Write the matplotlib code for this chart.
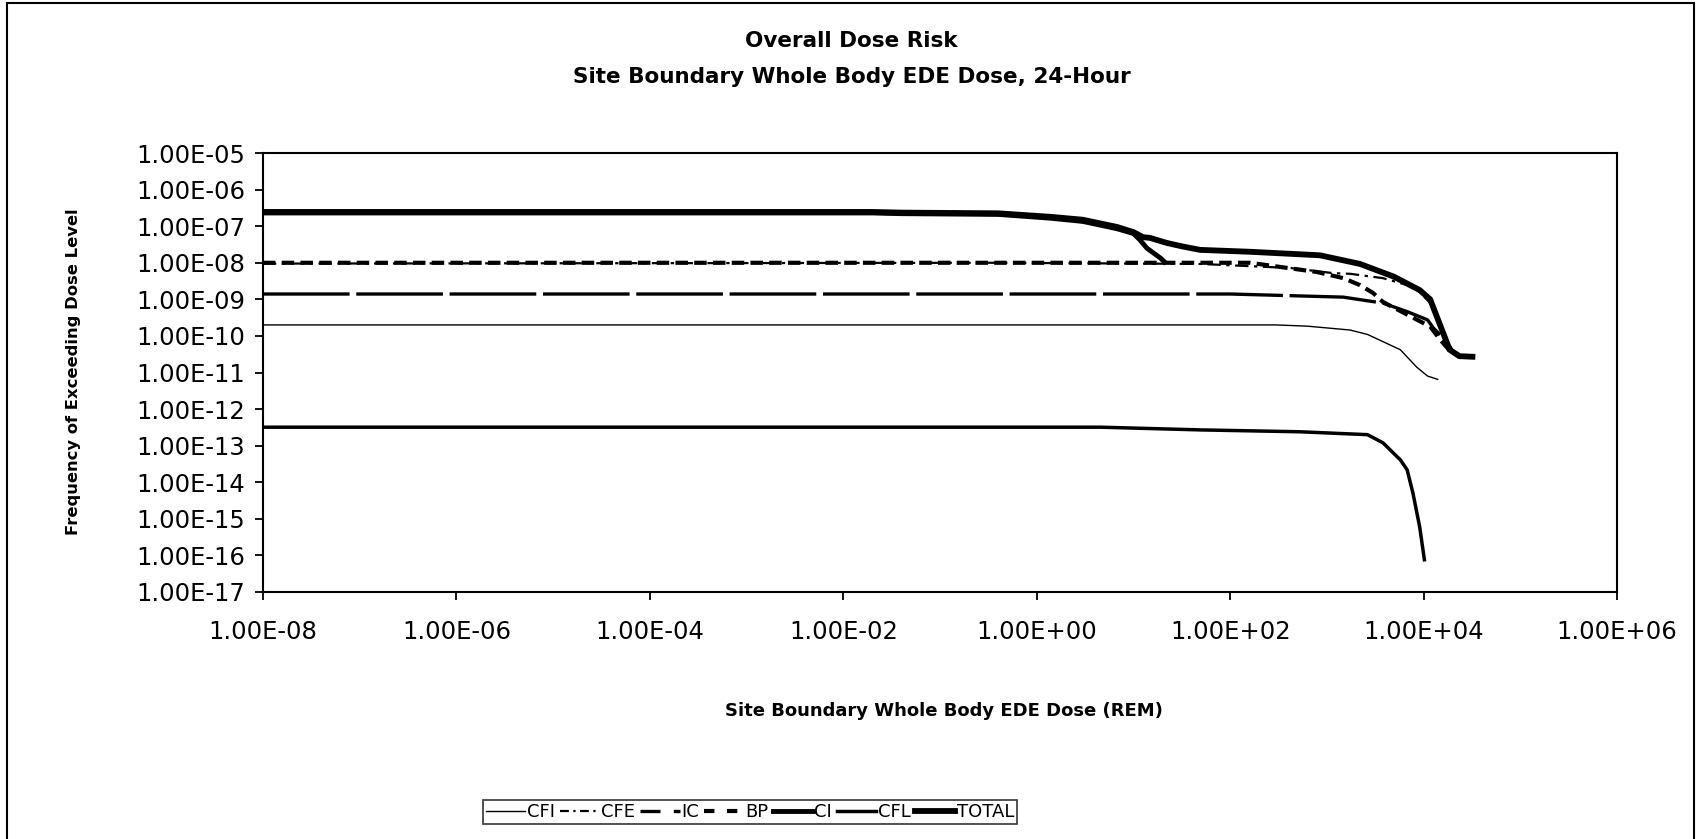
import matplotlib
matplotlib.use("Agg")
import matplotlib.pyplot as plt
from matplotlib.lines import Line2D
from matplotlib.patches import Rectangle
from matplotlib.ticker import FixedLocator, FuncFormatter, NullLocator

# dose (REM) / frequency of exceeding
total_x = [1e-8, 2e-2, 4e-2, 4e-1, 1.4, 3.0, 6.8, 10, 12.6, 14.8, 22, 32, 49, 160, 850, 2200, 4900, 9100, 11700, 18600, 23400, 32000]
total_y = [2.45e-7, 2.45e-7, 2.35e-7, 2.25e-7, 1.8e-7, 1.5e-7, 9.5e-8, 6.9e-8, 5.0e-8, 4.8e-8, 3.5e-8, 2.8e-8, 2.25e-8, 2.0e-8, 1.6e-8, 9.3e-9, 4.2e-9, 1.8e-9, 1.0e-9, 4.2e-11, 2.8e-11, 2.7e-11]

ci_x = [1e-8, 2e-2, 4e-2, 4e-1, 1.4, 3.0, 6.8, 10, 11.7, 13.8, 19, 21]
ci_y = [2.3e-7, 2.3e-7, 2.2e-7, 2.1e-7, 1.65e-7, 1.35e-7, 8.5e-8, 6.3e-8, 4.2e-8, 2.5e-8, 1.35e-8, 1.05e-8]

cfe_x = [1e-8, 0.4, 49, 420, 1170, 1740, 3800, 6800, 9100, 11700, 15800, 20000, 28000]
cfe_y = [9.5e-9, 1.0e-8, 9.3e-9, 7.2e-9, 5.2e-9, 5.0e-9, 3.8e-9, 2.45e-9, 1.6e-9, 7.9e-10, 1.26e-10, 4.0e-11, 2.5e-11]

bp_x = [1e-8, 160, 790, 1480, 2200, 3000, 3800, 11700, 14800, 20000]
bp_y = [1.0e-8, 1.0e-8, 5.6e-9, 3.8e-9, 2.45e-9, 1.5e-9, 8.5e-10, 1.8e-10, 8e-11, 3.2e-11]

ic_x = [1e-8, 100, 1480, 3800, 6800, 11000, 12600, 14800]
ic_y = [1.4e-9, 1.4e-9, 1.15e-9, 7.9e-10, 4.6e-10, 2.75e-10, 1.66e-10, 1.07e-10]

cfi_x = [1e-8, 300, 630, 1740, 2630, 5750, 8500, 11000, 14000]
cfi_y = [2.0e-10, 2.0e-10, 1.85e-10, 1.45e-10, 1.1e-10, 4.2e-11, 1.4e-11, 8.0e-12, 6.5e-12]

cfl_x = [1e-8, 1, 4.6, 49, 525, 2630, 3800, 5750, 6760, 7760, 9120, 10200]
cfl_y = [3.2e-13, 3.2e-13, 3.2e-13, 2.7e-13, 2.4e-13, 2.0e-13, 1.2e-13, 4.1e-14, 2.2e-14, 5.1e-15, 6.0e-16, 7.6e-17]

x_ticks = [1e-8, 1e-6, 1e-4, 1e-2, 1e0, 1e2, 1e4, 1e6]
y_ticks = [10.0 ** -k for k in range(17, 4, -1)]
names = ['CFI', 'CFE', 'IC', 'BP', 'CI', 'CFL', 'TOTAL']

fig = plt.figure(figsize=(17.03, 8.39), dpi=100)
ax = fig.add_axes([0.1544, 0.2944, 0.7951, 0.5232])

ax.plot(cfi_x, cfi_y, color='black', lw=1.0)
ax.plot(cfe_x, cfe_y, color='black', lw=1.6, dashes=(6, 2.5, 1.5, 2.5))
ax.plot(ic_x, ic_y, color='black', lw=2.4, dashes=(26, 2))
ax.plot(bp_x, bp_y, color='black', lw=3.0, dashes=(3, 1.5))
ax.plot(ci_x, ci_y, color='black', lw=3.5)
ax.plot(cfl_x, cfl_y, color='black', lw=2.5)
ax.plot(total_x, total_y, color='black', lw=4.2)

ax.set_xscale('log')
ax.set_yscale('log')
ax.set_xlim(1e-8, 1e6)
ax.set_ylim(1e-17, 1e-5)

fmt = FuncFormatter(lambda v, pos: f"{v:.2E}")
ax.xaxis.set_major_locator(FixedLocator(x_ticks))
ax.yaxis.set_major_locator(FixedLocator(y_ticks))
ax.xaxis.set_minor_locator(NullLocator())
ax.yaxis.set_minor_locator(NullLocator())
ax.xaxis.set_major_formatter(fmt)
ax.yaxis.set_major_formatter(fmt)
ax.tick_params(axis='both', direction='out', length=6, width=1.3, labelsize=17.5, colors='black')
ax.tick_params(axis='x', pad=14)
ax.tick_params(axis='y', pad=7)
for s in ax.spines.values():
    s.set_linewidth(1.5)
    s.set_color('black')

fig.text(0.5, 0.951, "Overall Dose Risk", ha='center', va='center', fontsize=15.5, fontweight='bold')
fig.text(0.5, 0.908, "Site Boundary Whole Body EDE Dose, 24-Hour", ha='center', va='center', fontsize=15.5, fontweight='bold')
fig.text(0.554, 0.1525, "Site Boundary Whole Body EDE Dose (REM)", ha='center', va='center', fontsize=13, fontweight='bold')
fig.text(0.0434, 0.557, "Frequency of Exceeding Dose Level", ha='center', va='center', rotation=90, fontsize=11.8, fontweight='bold')

# legend samples (short line, so dash patterns shown like the original key)
handles = [
    Line2D([], [], color='black', lw=1.0),
    Line2D([], [], color='black', lw=1.6, dashes=(4, 2, 1, 2)),
    Line2D([], [], color='black', lw=2.4, dashes=(6, 4)),
    Line2D([], [], color='black', lw=3.0, dashes=(2.5, 3)),
    Line2D([], [], color='black', lw=3.5),
    Line2D([], [], color='black', lw=2.5),
    Line2D([], [], color='black', lw=4.2),
]
leg = fig.legend(handles, names, loc='center', bbox_to_anchor=(0.4404, 0.0322), ncol=7, fontsize=13, frameon=True,
                 fancybox=False, edgecolor='black', handlelength=2.2, handletextpad=0.1, columnspacing=0.25,
                 borderpad=0.15, borderaxespad=0)
leg.get_frame().set_linewidth(1.2)

# outer chart border
fig.patches.append(Rectangle((0.004, -0.01), 0.991, 1.006, transform=fig.transFigure, fill=False,
                             edgecolor='black', lw=1.5))

fig.savefig('out.png', dpi=100)
